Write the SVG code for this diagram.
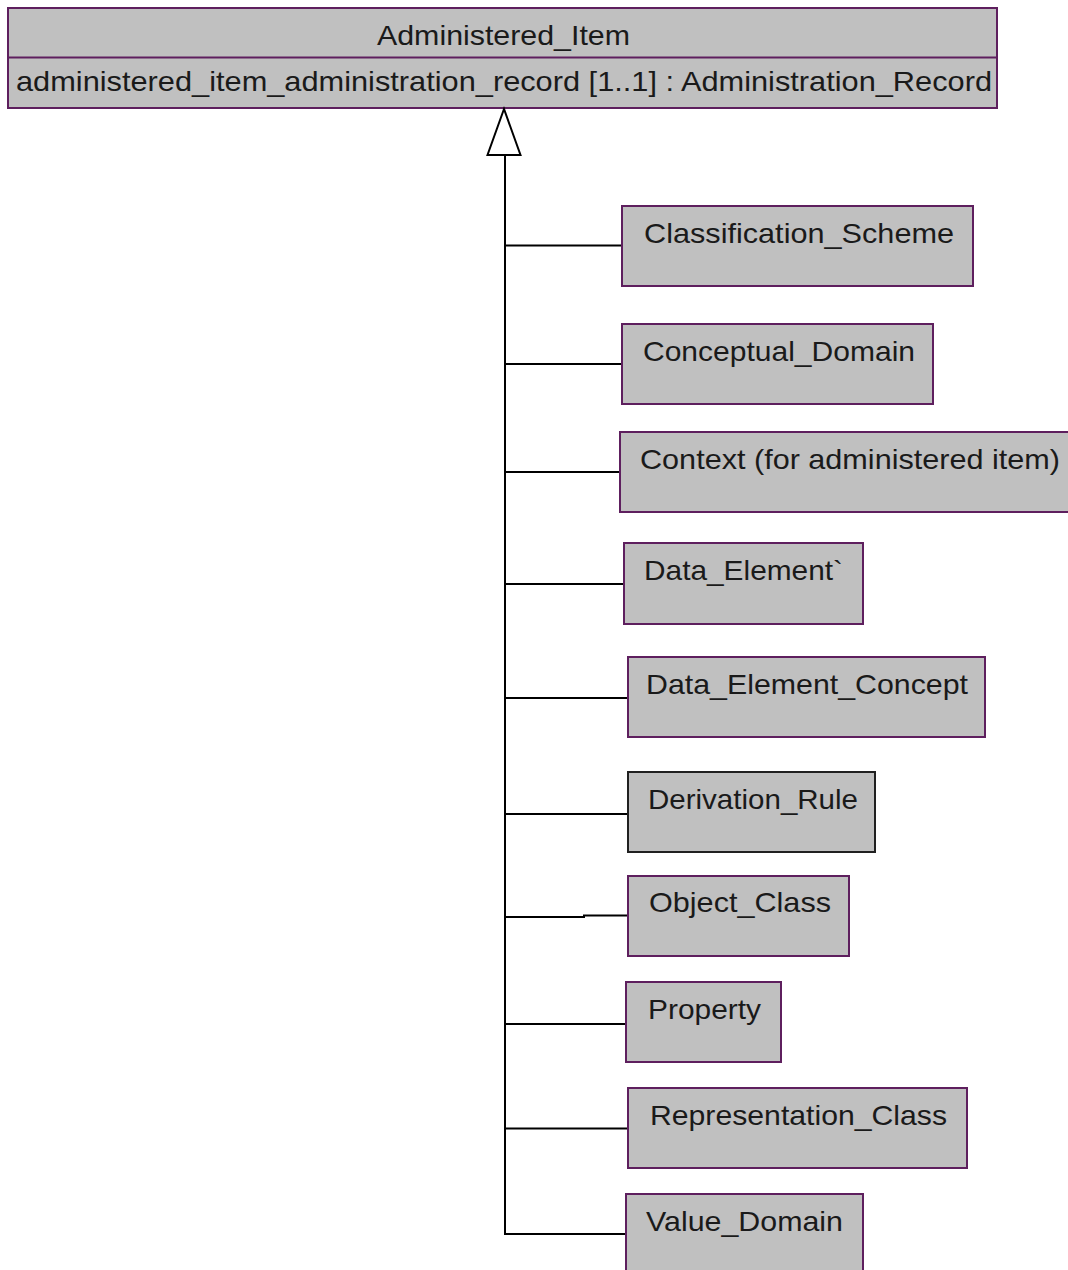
<svg xmlns="http://www.w3.org/2000/svg" width="1068" height="1270" viewBox="0 0 1068 1270">
<style>
.box{fill:#c0c0c0;stroke:#5e1f5e;stroke-width:2}
.blk{stroke:#202020}
.t{font-family:"Liberation Sans",Arial,sans-serif;font-size:28px;fill:#1a1a1a}
.c{fill:none;stroke:#000;stroke-width:2}
</style>
<rect width="1068" height="1270" fill="#fff"/>
<g id="Administered_Item">
<rect class="box" x="8" y="8" width="989" height="100"/>
<line x1="8" y1="57.5" x2="997" y2="57.5" stroke="#5e1f5e" stroke-width="2"/>
<text class="t" x="377" y="45" textLength="253" lengthAdjust="spacingAndGlyphs">Administered_Item</text>
<text class="t" x="16" y="91" textLength="976" lengthAdjust="spacingAndGlyphs">administered_item_administration_record [1..1] : Administration_Record</text>
</g>
<g id="connectors">
<polygon points="504,109 487.5,155 520.5,155" fill="#fff" stroke="#000" stroke-width="2"/>
<polyline class="c" points="505,155 505,1234 626,1234"/>
<line class="c" x1="505" y1="245.5" x2="622" y2="245.5"/>
<line class="c" x1="505" y1="364" x2="622" y2="364"/>
<line class="c" x1="505" y1="472" x2="620" y2="472"/>
<line class="c" x1="505" y1="584" x2="624" y2="584"/>
<line class="c" x1="505" y1="698" x2="628" y2="698"/>
<line class="c" x1="505" y1="814" x2="628" y2="814"/>
<polyline class="c" points="505,917 584,917 584,915.5 628,915.5"/>
<line class="c" x1="505" y1="1024" x2="626" y2="1024"/>
<line class="c" x1="505" y1="1128.5" x2="628" y2="1128.5"/>
</g>
<g id="Classification_Scheme">
<rect class="box" x="622" y="206" width="351" height="80"/>
<text class="t" x="644" y="243" textLength="310" lengthAdjust="spacingAndGlyphs">Classification_Scheme</text>
</g>
<g id="Conceptual_Domain">
<rect class="box" x="622" y="324" width="311" height="80"/>
<text class="t" x="643" y="361" textLength="272" lengthAdjust="spacingAndGlyphs">Conceptual_Domain</text>
</g>
<g id="Context">
<rect class="box" x="620" y="432" width="460" height="80"/>
<text class="t" x="640" y="469" textLength="420" lengthAdjust="spacingAndGlyphs">Context (for administered item)</text>
</g>
<g id="Data_Element">
<rect class="box" x="624" y="543" width="239" height="81"/>
<text class="t" x="644" y="580" textLength="199" lengthAdjust="spacingAndGlyphs">Data_Element`</text>
</g>
<g id="Data_Element_Concept">
<rect class="box" x="628" y="657" width="357" height="80"/>
<text class="t" x="646" y="694" textLength="322" lengthAdjust="spacingAndGlyphs">Data_Element_Concept</text>
</g>
<g id="Derivation_Rule">
<rect class="box blk" x="628" y="772" width="247" height="80"/>
<text class="t" x="648" y="809" textLength="210" lengthAdjust="spacingAndGlyphs">Derivation_Rule</text>
</g>
<g id="Object_Class">
<rect class="box" x="628" y="876" width="221" height="80"/>
<text class="t" x="649" y="912" textLength="182" lengthAdjust="spacingAndGlyphs">Object_Class</text>
</g>
<g id="Property">
<rect class="box" x="626" y="982" width="155" height="80"/>
<text class="t" x="648" y="1019" textLength="113" lengthAdjust="spacingAndGlyphs">Property</text>
</g>
<g id="Representation_Class">
<rect class="box" x="628" y="1088" width="339" height="80"/>
<text class="t" x="650" y="1125" textLength="297" lengthAdjust="spacingAndGlyphs">Representation_Class</text>
</g>
<g id="Value_Domain">
<rect class="box" x="626" y="1194" width="237" height="90"/>
<text class="t" x="646" y="1231" textLength="197" lengthAdjust="spacingAndGlyphs">Value_Domain</text>
</g>
</svg>
